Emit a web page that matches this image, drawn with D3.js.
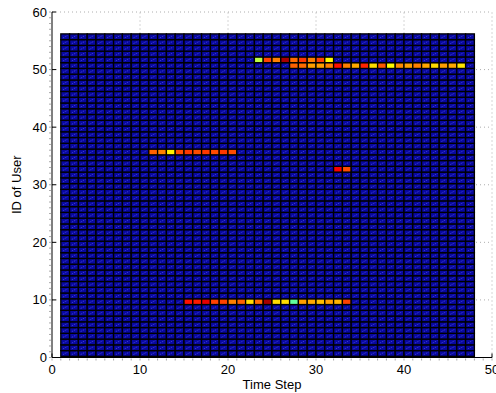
<!DOCTYPE html>
<html>
<head>
<meta charset="utf-8">
<script src="https://cdn.jsdelivr.net/npm/d3@7"></script>
<style>
  body { margin: 0; background: #fff; }
  svg text { font-family: "Liberation Sans", Arial, sans-serif; }
</style>
</head>
<body>
<svg id="chart" width="496" height="393"></svg>
<script>
// grid size (pcolor-like: 47 time steps x 56 users)
const nCols = 47;
const nRows = 56;
const colStart = 1;     // left cell edge (x units)
const rowStart = 0.2;   // bottom cell edge (y units)

// non-zero activity, values on the jet colormap scale 0..1
const row51Start = 23;
const row51 = [0.56, 0.81, 0.75, 0.96, 0.77, 0.82, 0.75, 0.81, 0.63];
const row50Start = 27;
const row50 = [0.78, 0.77, 0.72, 0.72, 0.75, 0.86, 0.75, 0.71, 0.84, 0.66,
               0.79, 0.63, 0.74, 0.72, 0.75, 0.71, 0.66, 0.72, 0.71, 0.65];
const row35Start = 11;
const row35 = [0.78, 0.75, 0.64, 0.8, 0.82, 0.8, 0.82, 0.8, 0.82, 0.8];
const row32Start = 32;
const row32 = [0.88, 0.8];
const row9Start = 15;
const row9 = [0.86, 0.85, 0.9, 0.81, 0.81, 0.75, 0.78, 0.66, 0.77, 0.96,
              0.66, 0.66, 0.47, 0.72, 0.71, 0.69, 0.72, 0.7, 0.81];

const xTicks = [0, 10, 20, 30, 40, 50];
const yTicks = [0, 10, 20, 30, 40, 50, 60];

// build the matrix
const grid = d3.range(nRows).map(() => new Array(nCols).fill(0));
function put(row, start, vals) {
  vals.forEach((v, i) => { grid[row][start - colStart + i] = v; });
}
put(51, row51Start, row51);
put(50, row50Start, row50);
put(35, row35Start, row35);
put(32, row32Start, row32);
put(9, row9Start, row9);

const cells = [];
grid.forEach((r, ri) => r.forEach((v, ci) => cells.push({ r: ri, c: ci, v: v })));

// MATLAB jet
function jet(v) {
  const cl = t => Math.max(0, Math.min(1, t));
  const r = cl(1.5 - Math.abs(4 * v - 3));
  const g = cl(1.5 - Math.abs(4 * v - 2));
  const b = cl(1.5 - Math.abs(4 * v - 1));
  return d3.rgb(r * 255, g * 255, b * 255).toString();
}

const svg = d3.select('#chart');
const x = d3.scaleLinear().domain([0, 50]).range([52, 492]);
const y = d3.scaleLinear().domain([0, 60]).range([357.5, 12]);

// dotted grid
const grid_g = svg.append('g').attr('stroke', '#999').attr('stroke-width', 0.8)
  .attr('stroke-dasharray', '1,3');
grid_g.selectAll('.gx').data(xTicks.slice(1)).enter().append('line')
  .attr('x1', d => x(d)).attr('x2', d => x(d)).attr('y1', y(0)).attr('y2', y(60));
grid_g.selectAll('.gy').data(yTicks.slice(1)).enter().append('line')
  .attr('y1', d => y(d)).attr('y2', d => y(d)).attr('x1', x(0)).attr('x2', x(50));

// cells
const cg = svg.append('g');
cg.selectAll('rect').data(cells).enter().append('rect')
  .attr('x', d => x(colStart + d.c))
  .attr('y', d => y(rowStart + d.r + 1))
  .attr('width', d => x(colStart + d.c + 1) - x(colStart + d.c))
  .attr('height', d => y(rowStart + d.r) - y(rowStart + d.r + 1))
  .attr('fill', d => d.v === 0 ? '#0808a0' : jet(d.v))
  .attr('stroke', '#000')
  .attr('stroke-width', 1.3);

// faint diagonal artefact inside the blue cells
cg.selectAll('line').data(cells.filter(d => d.v === 0)).enter().append('line')
  .attr('x1', d => x(colStart + d.c + 0.25))
  .attr('x2', d => x(colStart + d.c + 0.8))
  .attr('y1', d => y(rowStart + d.r + 0.3))
  .attr('y2', d => y(rowStart + d.r + 0.75))
  .attr('stroke', '#4848d8')
  .attr('stroke-width', 0.8)
  .attr('stroke-dasharray', '1.5,1');

// axes
const ax = svg.append('g').attr('stroke', '#000').attr('stroke-width', 1);
ax.append('line').attr('x1', x(0)).attr('x2', x(50)).attr('y1', y(0)).attr('y2', y(0));
ax.append('line').attr('x1', x(0)).attr('x2', x(0)).attr('y1', y(0)).attr('y2', y(60));
ax.selectAll('.tx').data(xTicks).enter().append('line')
  .attr('x1', d => x(d)).attr('x2', d => x(d)).attr('y1', y(0)).attr('y2', y(0) - 4);
ax.selectAll('.ty').data(yTicks).enter().append('line')
  .attr('y1', d => y(d)).attr('y2', d => y(d)).attr('x1', x(0)).attr('x2', x(0) + 4);
// minor ticks
ax.selectAll('.mx').data(d3.range(0, 51)).enter().append('line')
  .attr('x1', d => x(d)).attr('x2', d => x(d)).attr('y1', y(0) + 1).attr('y2', y(0) + 3)
  .attr('stroke-width', 0.5).attr('stroke', '#555');
ax.selectAll('.my').data(d3.range(0, 61)).enter().append('line')
  .attr('y1', d => y(d)).attr('y2', d => y(d)).attr('x1', x(0) - 3).attr('x2', x(0) - 1)
  .attr('stroke-width', 0.5).attr('stroke', '#555');

// tick labels
svg.selectAll('.lx').data(xTicks).enter().append('text')
  .attr('x', d => x(d)).attr('y', y(0) + 16)
  .attr('text-anchor', 'middle').attr('font-size', 13).text(d => d);
svg.selectAll('.ly').data(yTicks).enter().append('text')
  .attr('x', x(0) - 5).attr('y', d => y(d) + 4.5)
  .attr('text-anchor', 'end').attr('font-size', 13).text(d => d);

// axis titles
svg.append('text').attr('x', x(25)).attr('y', 389)
  .attr('text-anchor', 'middle').attr('font-size', 13).text('Time Step');
svg.append('text').attr('transform', `translate(21,${y(30)}) rotate(-90)`)
  .attr('text-anchor', 'middle').attr('font-size', 13).text('ID of User');
</script>
</body>
</html>
